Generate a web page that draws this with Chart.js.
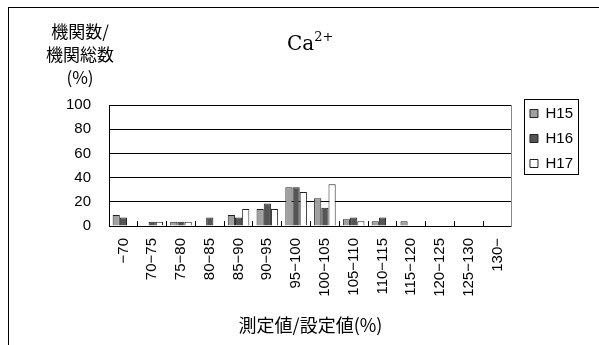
<!DOCTYPE html>
<html lang="ja">
<head>
  <meta charset="UTF-8" />
  <title>Ca2+</title>
  <script src="https://cdn.jsdelivr.net/npm/chart.js"></script>
  <style>
    body { margin: 0; background: #fff; overflow: hidden; }
    #wrap { position: relative; width: 599px; height: 345px; }
    #wrap canvas { position: absolute; left: 0; top: 0; }
    #frame { position: absolute; left: 8px; top: 7px; width: 640px; height: 400px;
             border-left: 1px solid #000; border-top: 1px solid #000; }
    #ytitle { position: absolute; left: 30px; top: 19px; width: 100px; text-align: center;
              font: 17px/23px "Noto Sans CJK JP"; color: #000; }
    #title { position: absolute; left: 287px; top: 29px; font: 20px "DejaVu Serif"; color: #000; }
    #title sup { font-size: 13px; vertical-align: 9px; }
  </style>
</head>
<body>
  <div id="wrap">
    <div id="frame"></div>
    <canvas id="chart" width="599" height="345"></canvas>
    <div id="ytitle">機関数/<br>機関総数<br>(%)</div>
    <div id="title">Ca<sup>2+</sup></div>
  </div>

  <script>
    const labels = ['−70', '70−75', '75−80', '80−85', '85−90', '90−95', '95−100',
                    '100−105', '105−110', '110−115', '115−120', '120−125', '125−130', '130−'];
    const h15 = [9, 0, 3.5, 0, 9, 14, 32, 23, 5.5, 4, 4, 0, 0, 0];
    const h16 = [7, 3.5, 3.5, 7, 7, 18.5, 32, 15, 7, 7, 0, 0, 0, 0];
    const h17 = [0, 3.5, 3.5, 0, 14, 14, 28, 34.5, 4, 0, 0, 0, 0, 0];
    const yTicks = [0, 20, 40, 60, 80, 100];

    const tickFont = { family: '"Liberation Sans", Arial', size: 15 };

    // legend sits a little above the plot top, with a box round it
    const legendBox = {
      id: 'legendBox',
      afterLayout(chart) {
        chart.legend.top -= 9;
        chart.legend.bottom -= 9;
      },
      afterDraw(chart) {
        const boxes = chart.legend && chart.legend.legendHitBoxes;
        if (!boxes || !boxes.length) return;
        let l = Infinity, t = Infinity, r = -Infinity, b = -Infinity;
        boxes.forEach(h => {
          l = Math.min(l, h.left); t = Math.min(t, h.top);
          r = Math.max(r, h.left + h.width); b = Math.max(b, h.top + h.height);
        });
        const ctx = chart.ctx;
        ctx.save();
        ctx.strokeStyle = '#000';
        ctx.lineWidth = 1;
        ctx.strokeRect(Math.round(l - 6) + 0.5, Math.round(t - 7) + 0.5, Math.round(r - l + 11), Math.round(b - t + 10));
        ctx.restore();
      }
    };

    const ds = (label, data, color) => ({
      label, data,
      backgroundColor: color,
      borderColor: '#222',
      borderWidth: 1,
      categoryPercentage: 0.75,
      barPercentage: 1.0
    });

    new Chart(document.getElementById('chart'), {
      type: 'bar',
      data: {
        labels,
        datasets: [
          ds('H15', h15, '#a0a0a0'),
          ds('H16', h16, '#555555'),
          ds('H17', h17, '#ffffff')
        ]
      },
      options: {
        responsive: false,
        animation: false,
        layout: { padding: { left: 48, top: 105, right: 16, bottom: 9 } },
        plugins: {
          tooltip: { enabled: false },
          legend: {
            position: 'right',
            align: 'start',
            labels: {
              boxWidth: 8, boxHeight: 8, padding: 10,
              color: '#000', font: tickFont
            }
          }
        },
        scales: {
          x: {
            offset: true,
            afterFit: s => { s.height = 110; },
            grid: { display: true, offset: true, drawOnChartArea: false, tickLength: -5, color: '#000' },
            border: { color: '#000', width: 1 },
            ticks: { color: '#000', font: tickFont, maxRotation: 90, minRotation: 90, padding: 17, autoSkip: false },
            title: {
              display: true,
              text: '測定値/設定値(%)',
              color: '#000',
              font: { family: '"Noto Sans CJK JP"', size: 18 },
              padding: { top: 4, bottom: 0 }
            }
          },
          y: {
            min: 0, max: 100,
            afterBuildTicks: s => { s.ticks = yTicks.map(v => ({ value: v })); },
            grid: { color: '#000', drawTicks: false },
            border: { color: '#000', width: 1 },
            ticks: { color: '#000', font: tickFont, padding: 18 }
          },
          y2: {
            position: 'right',
            min: 0, max: 100,
            afterFit: s => { s.width = 8; },
            grid: { drawOnChartArea: false, drawTicks: false },
            border: { color: '#888', width: 1 },
            ticks: { display: false }
          }
        }
      },
      plugins: [legendBox]
    });
  </script>
</body>
</html>
